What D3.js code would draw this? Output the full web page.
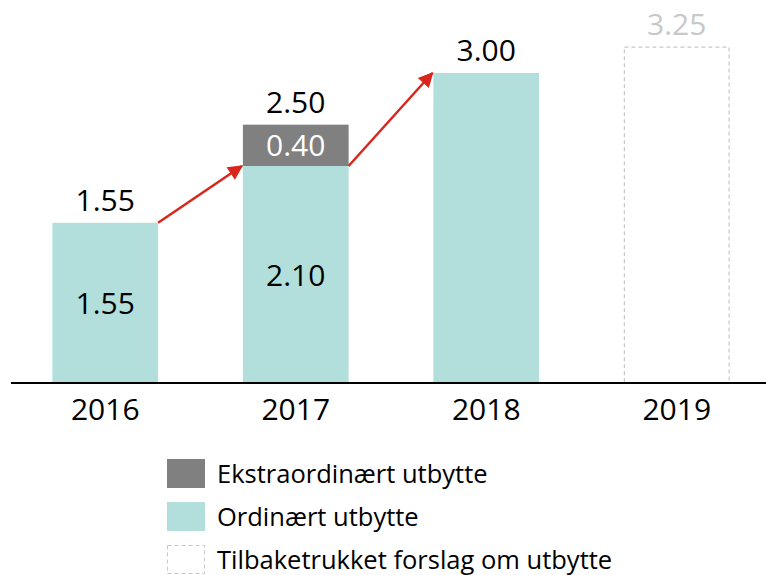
<!DOCTYPE html>
<html>
<head>
<meta charset="utf-8">
<script src="https://cdn.jsdelivr.net/npm/d3@7"></script>
<style>
  body { margin: 0; background: #fff; }
  text { font-family: "Open Sans", "Noto Sans", sans-serif; }
</style>
</head>
<body>
<script>
let width = 766,
  height = 575

let years = ['2016', '2017', '2018', '2019']
let ordinary = [1.55, 2.10, 3.00, null]
let extraordinary = [0, 0.40, 0, 0]
let withdrawn = [null, null, null, 3.25]
let totals = [1.55, 2.50, 3.00, 3.25]

let legendItems = [
  { label: 'Ekstraordinært utbytte', type: 'extra' },
  { label: 'Ordinært utbytte', type: 'ordinary' },
  { label: 'Tilbaketrukket forslag om utbytte', type: 'withdrawn' }
]

let colors = { ordinary: '#b2dfdb', extra: '#808080', withdrawn: '#c8c8c8', arrow: '#d9261c' }

let svg = d3.select('body').append('svg')
  .attr('width', width)
  .attr('height', height)

let x = d3.scaleBand()
  .domain(years)
  .range([10, 772])
  .paddingInner(0.445)
  .paddingOuter(0.2225)

let y = d3.scaleLinear()
  .domain([0, 3])
  .range([383, 73])

let defs = svg.append('defs')
defs.append('marker')
  .attr('id', 'arrowhead')
  .attr('viewBox', '0 0 10 10')
  .attr('refX', 9)
  .attr('refY', 5)
  .attr('markerWidth', 6.5)
  .attr('markerHeight', 6)
  .attr('orient', 'auto')
  .append('path')
  .attr('d', 'M0,0 L10,5 L0,10 Z')
  .attr('fill', colors.arrow)

let data = years.map((yr, i) => ({
  year: yr,
  ordinary: ordinary[i],
  extra: extraordinary[i],
  withdrawn: withdrawn[i],
  total: totals[i]
}))

// ordinary bars
svg.selectAll('.ord')
  .data(data.filter(d => d.ordinary != null))
  .enter().append('rect')
  .attr('class', 'ord')
  .attr('x', d => x(d.year))
  .attr('width', x.bandwidth())
  .attr('y', d => y(d.ordinary))
  .attr('height', d => y(0) - y(d.ordinary))
  .attr('fill', colors.ordinary)

// extraordinary on top
svg.selectAll('.extra')
  .data(data.filter(d => d.extra > 0))
  .enter().append('rect')
  .attr('class', 'extra')
  .attr('x', d => x(d.year))
  .attr('width', x.bandwidth())
  .attr('y', d => y(d.ordinary + d.extra))
  .attr('height', d => y(d.ordinary) - y(d.ordinary + d.extra))
  .attr('fill', colors.extra)

// withdrawn proposal
svg.selectAll('.withdrawn')
  .data(data.filter(d => d.withdrawn != null))
  .enter().append('rect')
  .attr('class', 'withdrawn')
  .attr('x', d => x(d.year) + 0.5)
  .attr('width', x.bandwidth() - 1)
  .attr('y', d => y(d.withdrawn))
  .attr('height', d => y(0) - y(d.withdrawn))
  .attr('fill', 'none')
  .attr('stroke', colors.withdrawn)
  .attr('stroke-width', 1.2)
  .attr('stroke-dasharray', '4,3')

// labels inside ordinary segment (2018 only has the top label)
svg.selectAll('.ordLabel')
  .data(data.filter(d => d.ordinary != null && d.year != '2018'))
  .enter().append('text')
  .attr('x', d => x(d.year) + x.bandwidth() / 2)
  .attr('y', d => (y(0) + y(d.ordinary)) / 2 + 11)
  .attr('text-anchor', 'middle')
  .attr('font-size', 30)
  .attr('fill', '#000')
  .text(d => d.ordinary.toFixed(2))

svg.selectAll('.extraLabel')
  .data(data.filter(d => d.extra > 0))
  .enter().append('text')
  .attr('x', d => x(d.year) + x.bandwidth() / 2)
  .attr('y', d => (y(d.ordinary) + y(d.ordinary + d.extra)) / 2 + 11)
  .attr('text-anchor', 'middle')
  .attr('font-size', 30)
  .attr('fill', '#fff')
  .text(d => d.extra.toFixed(2))

// totals above
svg.selectAll('.total')
  .data(data)
  .enter().append('text')
  .attr('x', d => x(d.year) + x.bandwidth() / 2)
  .attr('y', d => y(d.total) - 12)
  .attr('text-anchor', 'middle')
  .attr('font-size', 30)
  .attr('fill', d => d.withdrawn != null ? colors.withdrawn : '#000')
  .text(d => d.total.toFixed(2))

// arrows between ordinary values
let arrowPairs = d3.pairs(data.filter(d => d.ordinary != null))
svg.selectAll('.arrow')
  .data(arrowPairs)
  .enter().append('line')
  .attr('x1', d => x(d[0].year) + x.bandwidth())
  .attr('y1', d => y(d[0].ordinary))
  .attr('x2', d => x(d[1].year) - 1)
  .attr('y2', d => y(d[1].ordinary))
  .attr('stroke', colors.arrow)
  .attr('stroke-width', 2.5)
  .attr('marker-end', 'url(#arrowhead)')

// x axis
let xAxis = svg.append('g')
  .attr('transform', `translate(0,${y(0)})`)
  .call(d3.axisBottom(x).tickSize(0).tickPadding(16))
xAxis.select('.domain').remove()
xAxis.append('line')
  .attr('x1', 11)
  .attr('x2', width)
  .attr('stroke', '#000')
  .attr('stroke-width', 2)
xAxis.selectAll('text')
  .attr('font-size', 30)
  .attr('fill', '#000')
  .attr('font-family', '"Open Sans", "Noto Sans", sans-serif')

// legend
let legend = svg.append('g')
  .attr('transform', 'translate(167,459)')

let legendItem = legend.selectAll('.legend-item')
  .data(legendItems)
  .enter().append('g')
  .attr('class', 'legend-item')
  .attr('transform', (d, i) => `translate(0,${i * 43})`)

legendItem.append('rect')
  .attr('x', d => d.type == 'withdrawn' ? 0.5 : 0)
  .attr('y', d => d.type == 'withdrawn' ? 0.5 : 0)
  .attr('width', d => d.type == 'withdrawn' ? 37 : 38)
  .attr('height', d => d.type == 'withdrawn' ? 28 : 29)
  .attr('fill', d => d.type == 'withdrawn' ? 'none' : colors[d.type])
  .attr('stroke', d => d.type == 'withdrawn' ? colors.withdrawn : 'none')
  .attr('stroke-dasharray', '4,3')

legendItem.append('text')
  .attr('x', 50)
  .attr('y', 24)
  .attr('font-size', 25.5)
  .attr('fill', '#000')
  .text(d => d.label)
</script>
</body>
</html>
